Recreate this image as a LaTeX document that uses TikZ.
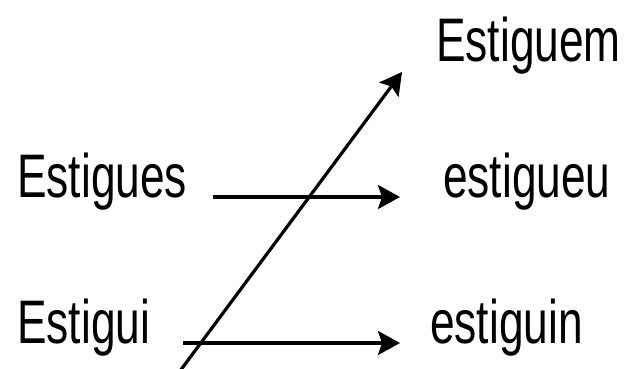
\documentclass[tikz,border=0pt]{standalone}
\usepackage{fontspec}
\setmainfont{Liberation Sans}[FakeStretch=0.72]
\usepackage{tikz}
\usetikzlibrary{arrows.meta}

\begin{document}
\begin{tikzpicture}[
        x=1pt, y=-1pt,
        word/.style={inner sep=0pt, anchor=base west, font=\fontsize{61.5}{70}\selectfont},
        arrow/.style={-{Stealth[length=22pt, width=24pt, inset=4pt]}, line width=3.2pt},
    ]
    \useasboundingbox (0,0) rectangle (627,369);

    \node (estigues) [word] at (17,197) {Estigues};
    \node (estigui) [word] at (17,343) {Estigui};
    \node (estiguem) [word] at (436,62) {Estiguem};
    \node (estigueu) [word] at (443,197) {estigueu};
    \node (estiguin) [word] at (430,343) {estiguin};

    \coordinate (low) at (180,371);
    \coordinate (high) at (402,72);

    \draw[arrow, shorten <=26pt, shorten >=43pt] (estigues.base east) -- (estigueu.base west);
    \draw[arrow, shorten <=33pt, shorten >=30pt] (estigui.base east) -- (estiguin.base west);
    \draw[arrow] (low) -- (high);

\end{tikzpicture}
\end{document}
